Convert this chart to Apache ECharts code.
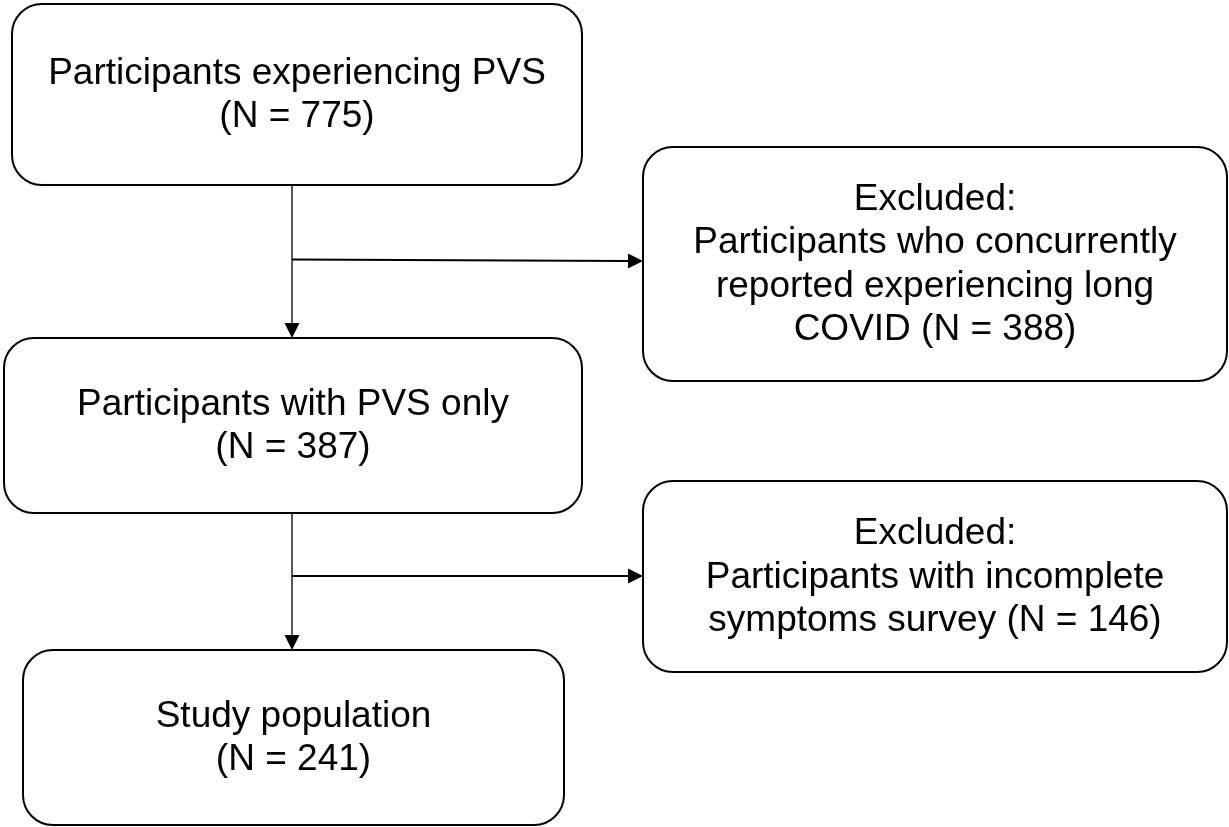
<!DOCTYPE html>
<html>
<head>
<meta charset="utf-8">
<script src="https://cdn.jsdelivr.net/npm/echarts@6/dist/echarts.min.js"></script>
<style>
  html, body { margin: 0; padding: 0; background: #fff; }
  #chart { width: 1229px; height: 827px; }
</style>
</head>
<body>
<div id="chart"></div>
<script>
// flow diagram: boxes and arrows in page-pixel units (x right, y down)

const boxLabels = [
    'Participants experiencing PVS\n(N = 775)',
    'Excluded:\nParticipants who concurrently\nreported experiencing long\nCOVID (N = 388)',
    'Participants with PVS only\n(N = 387)',
    'Excluded:\nParticipants with incomplete\nsymptoms survey (N = 146)',
    'Study population\n(N = 241)'
];
// [left, top, right, bottom]
const boxExtents = [
    [12, 4, 582, 185],
    [643, 147, 1227, 381],
    [4, 338, 582, 513],
    [643, 481, 1227, 672],
    [23, 650, 564, 825]
];
// [x0, y0, x1, y1]  (arrow points to x1,y1)
const arrowSegments = [
    [292, 185, 292, 338],
    [292, 259.5, 643, 261],
    [292, 513, 292, 650],
    [292, 576, 643, 576]
];

const chart = echarts.init(document.getElementById('chart'));

function renderBox(params, api) {
    const p0 = api.coord([api.value(0), api.value(1)]);
    const p1 = api.coord([api.value(2), api.value(3)]);
    const idx = api.value(4);
    return {
        type: 'group',
        children: [{
            type: 'rect',
            shape: { x: p0[0], y: p0[1], width: p1[0] - p0[0], height: p1[1] - p0[1], r: 30 },
            style: { fill: '#fff', stroke: '#000', lineWidth: 2 }
        }, {
            type: 'text',
            style: {
                text: boxLabels[idx],
                x: (p0[0] + p1[0]) / 2,
                y: (p0[1] + p1[1]) / 2 + 1,
                align: 'center',
                verticalAlign: 'middle',
                fontFamily: '"Liberation Sans", Arial, sans-serif',
                fontSize: 37,
                lineHeight: 43.5,
                fill: '#000'
            }
        }]
    };
}

function renderArrow(params, api) {
    const a = api.coord([api.value(0), api.value(1)]);
    const b = api.coord([api.value(2), api.value(3)]);
    const dx = b[0] - a[0], dy = b[1] - a[1];
    const len = Math.sqrt(dx * dx + dy * dy);
    const ux = dx / len, uy = dy / len;
    const head = 15, half = 7.5;
    const bx = b[0] - ux * head, by = b[1] - uy * head;
    const vertical = Math.abs(dy) > Math.abs(dx);
    return {
        type: 'group',
        children: [{
            type: 'line',
            shape: { x1: a[0], y1: a[1], x2: bx, y2: by },
            style: { stroke: vertical ? '#222' : '#000', lineWidth: vertical ? 1.5 : 2 }
        }, {
            type: 'polygon',
            shape: { points: [[b[0], b[1]], [bx - uy * half, by + ux * half], [bx + uy * half, by - ux * half]] },
            style: { fill: '#000' }
        }]
    };
}

const option = {
    animation: false,
    backgroundColor: '#fff',
    grid: { left: 0, right: 0, top: 0, bottom: 0 },
    xAxis: { type: 'value', min: 0, max: 1229, show: false },
    yAxis: { type: 'value', min: 0, max: 827, inverse: true, show: false },
    series: [{
        type: 'custom',
        renderItem: renderArrow,
        clip: false,
        data: arrowSegments
    }, {
        type: 'custom',
        renderItem: renderBox,
        clip: false,
        data: boxExtents.map((b, i) => b.concat(i))
    }]
};

chart.setOption(option);
</script>
</body>
</html>
